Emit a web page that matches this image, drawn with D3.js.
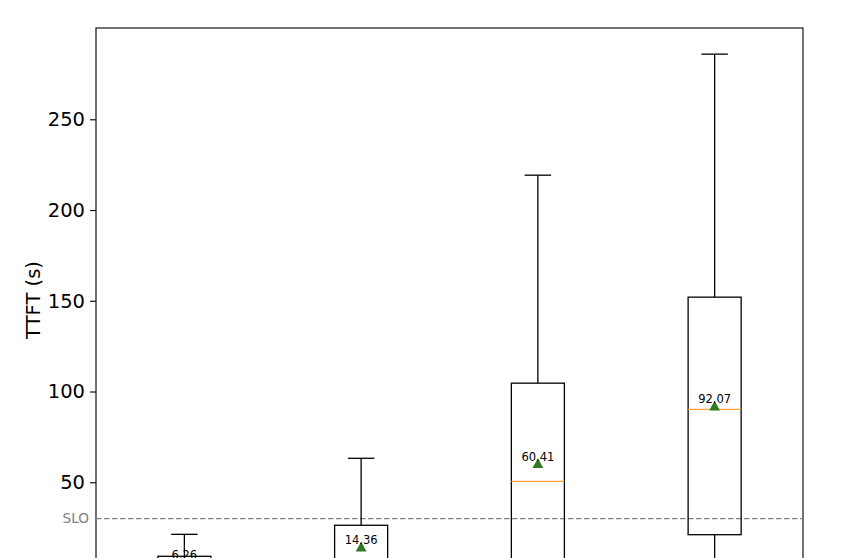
<!DOCTYPE html>
<html>
<head>
<meta charset="utf-8">
<script src="https://cdn.jsdelivr.net/npm/d3@7"></script>
<style>
  body { margin: 0; background: #fff; overflow: hidden; }
  text { font-family: "DejaVu Sans", sans-serif; }
</style>
</head>
<body>
<div id="chart"></div>
<script>
// box plot values (lower part of the chart is cut off in the reference, those are estimates)
const positions = [1, 2, 3, 4];
const whiskerHigh = [21.3, 63.2, 219.2, 285.9];
const q3 = [9.2, 26.3, 104.6, 152.0];
const medians = [4.0, 6.5, 50.5, 90.2];
const q1 = [2.0, 3.0, 6.0, 21.1];
const whiskerLow = [0.5, 0.8, 1.0, 2.0];
const means = [6.26, 14.36, 60.41, 92.07];
const yTicks = [50, 100, 150, 200, 250];
const slo = 30;

const data = positions.map((p, i) => ({
  pos: p,
  hi: whiskerHigh[i], q3: q3[i], med: medians[i], q1: q1[i], lo: whiskerLow[i], mean: means[i]
}));

/** CONSTANTS */
const width = 846;
const height = 558;
const margins = { top: 28, left: 96, right: 43 };
const plotBottom = 573;

const xScale = d3.scaleLinear()
  .domain([0.5, positions.length + 0.5])
  .range([margins.left, width - margins.right]);

const yScale = d3.scaleLinear()
  .domain([0, 300.3])
  .range([plotBottom, margins.top]);

const halfBox = 0.15;
const halfCap = 0.075;

const svg = d3.select("#chart")
  .append("svg")
  .attr("width", width)
  .attr("height", height);

// y axis
const yAxis = svg.append("g")
  .attr("transform", `translate(${margins.left},0)`)
  .call(d3.axisLeft(yScale).tickValues(yTicks).tickSize(6).tickPadding(5))
yAxis.select(".domain").remove();
yAxis.selectAll("line").attr("stroke", "#000").attr("stroke-width", 1.1);
yAxis.selectAll("text")
  .attr("font-size", "19.5px")
  .attr("font-family", "DejaVu Sans, sans-serif")
  .attr("fill", "#000");

// frame
svg.append("rect")
  .attr("x", margins.left)
  .attr("y", margins.top)
  .attr("width", width - margins.right - margins.left)
  .attr("height", plotBottom - margins.top)
  .attr("fill", "none")
  .attr("stroke", "#000")
  .attr("stroke-width", 1.1);

// SLO line
svg.append("line")
  .attr("x1", margins.left)
  .attr("x2", width - margins.right)
  .attr("y1", yScale(slo))
  .attr("y2", yScale(slo))
  .attr("stroke", "#808080")
  .attr("stroke-width", 1.2)
  .attr("stroke-dasharray", "5.5,2.5");

svg.append("text")
  .attr("x", margins.left - 7)
  .attr("y", yScale(slo))
  .attr("dy", "0.35em")
  .attr("text-anchor", "end")
  .attr("font-size", "13.6px")
  .attr("fill", "#808080")
  .text("SLO");

const boxes = svg.selectAll("g.box")
  .data(data)
  .join("g")
  .attr("class", "box");

// whiskers
boxes.append("line")
  .attr("x1", d => xScale(d.pos)).attr("x2", d => xScale(d.pos))
  .attr("y1", d => yScale(d.q3)).attr("y2", d => yScale(d.hi))
  .attr("stroke", "#000").attr("stroke-width", 1.3);
boxes.append("line")
  .attr("x1", d => xScale(d.pos)).attr("x2", d => xScale(d.pos))
  .attr("y1", d => yScale(d.q1)).attr("y2", d => yScale(d.lo))
  .attr("stroke", "#000").attr("stroke-width", 1.3);

// caps
boxes.append("line")
  .attr("x1", d => xScale(d.pos - halfCap)).attr("x2", d => xScale(d.pos + halfCap))
  .attr("y1", d => yScale(d.hi)).attr("y2", d => yScale(d.hi))
  .attr("stroke", "#000").attr("stroke-width", 1.3);
boxes.append("line")
  .attr("x1", d => xScale(d.pos - halfCap)).attr("x2", d => xScale(d.pos + halfCap))
  .attr("y1", d => yScale(d.lo)).attr("y2", d => yScale(d.lo))
  .attr("stroke", "#000").attr("stroke-width", 1.3);

// box
boxes.append("rect")
  .attr("x", d => xScale(d.pos - halfBox))
  .attr("width", d => xScale(d.pos + halfBox) - xScale(d.pos - halfBox))
  .attr("y", d => yScale(d.q3))
  .attr("height", d => yScale(d.q1) - yScale(d.q3))
  .attr("fill", "none")
  .attr("stroke", "#000")
  .attr("stroke-width", 1.3);

// median
boxes.append("line")
  .attr("x1", d => xScale(d.pos - halfBox)).attr("x2", d => xScale(d.pos + halfBox))
  .attr("y1", d => yScale(d.med)).attr("y2", d => yScale(d.med))
  .attr("stroke", "#f9a33c").attr("stroke-width", 1.3);

// mean marker
boxes.append("path")
  .attr("d", d => {
    const x = xScale(d.pos), y = yScale(d.mean);
    return `M${x},${y - 5.2}L${x + 5.4},${y + 4.6}L${x - 5.4},${y + 4.6}Z`;
  })
  .attr("fill", "#2f7a22");

// mean label
boxes.append("text")
  .attr("x", d => xScale(d.pos))
  .attr("y", d => yScale(d.mean))
  .attr("dy", "-2.5")
  .attr("text-anchor", "middle")
  .attr("font-size", "11.5px")
  .attr("fill", "#000")
  .text(d => d3.format(".2f")(d.mean));

// y label
svg.append("text")
  .attr("transform", "translate(40,300) rotate(-90)")
  .attr("text-anchor", "middle")
  .attr("font-size", "19.5px")
  .attr("fill", "#000")
  .text("TTFT (s)");
</script>
</body>
</html>
